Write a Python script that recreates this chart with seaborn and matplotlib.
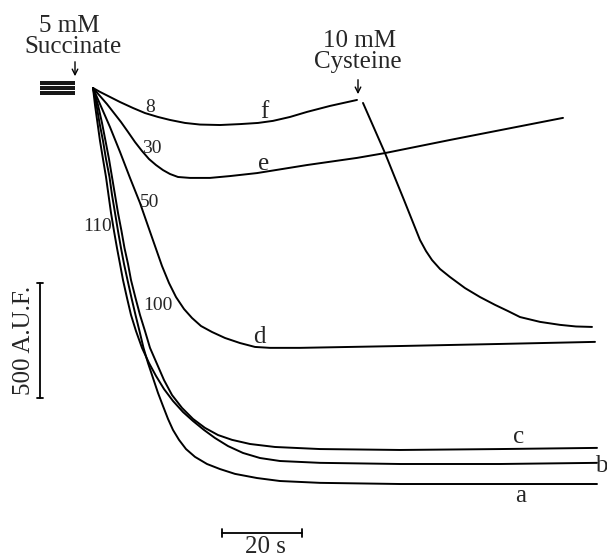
import matplotlib
matplotlib.use("Agg")
import matplotlib.pyplot as plt
import seaborn as sns
import pandas as pd

# time after succinate addition (s) and fluorescence (A.U.F.)
# trace f (8) before cysteine addition
t_f = [0, 1.75, 4.25, 6.75, 10, 13, 16.25, 19.25, 23, 26.75, 31.75, 36.75, 41.25, 45,
       49.25, 53.5, 59.25, 66]
F_f = [1800, 1783, 1761, 1739, 1713, 1691, 1674, 1661, 1648, 1641, 1639, 1643, 1648, 1657,
       1674, 1696, 1722, 1748]
# trace f after 10 mM cysteine
t_cys = [67.5, 70.25, 73, 75.5, 77.75, 79.75, 81.75, 83.25, 84.75, 86.75, 89.25, 93,
         96.75, 100.5, 103.75, 106.75, 111.75, 116.75, 120.75, 124.75]
F_cys = [1735, 1626, 1517, 1409, 1313, 1226, 1139, 1091, 1052, 1013, 978, 930,
         891, 857, 830, 804, 783, 770, 763, 761]
# trace e (30)
t_e = [0, 1.75, 3.5, 5.25, 7, 8.75, 10.5, 12.25, 14, 15.75, 17.5, 19.25, 21.25, 24.25,
       29.25, 34.25, 41, 53.5, 66, 73, 89.25, 117.5]
F_e = [1800, 1765, 1730, 1691, 1652, 1609, 1565, 1526, 1491, 1465, 1443, 1426, 1413, 1409,
       1409, 1417, 1430, 1465, 1496, 1517, 1574, 1670]
# trace d (50)
t_d = [0, 1.75, 4.25, 6.75, 9.25, 11.75, 13.75, 15.5, 17.25, 19, 20.75, 22.75, 24.75, 27,
       29.75, 33, 36.75, 40.5, 44.25, 51.75, 76.75, 101.75, 125.5]
F_d = [1800, 1730, 1630, 1522, 1409, 1300, 1200, 1113, 1026, 952, 891, 839, 800, 765,
       739, 713, 691, 674, 670, 670, 678, 687, 696]
# trace a
t_a = [0, 0.875, 1.625, 2.5, 3.25, 4.125, 4.75, 5.5, 6.25, 7, 7.75, 8.625, 9.625, 10.625,
       11.625, 12.625, 13.75, 15, 16.25, 17.5, 18.75, 20, 21.5, 23.25, 25.5, 28.5, 31.75,
       35.5, 41, 46.75, 56.75, 76.75, 101.75, 126]
F_a = [1800, 1726, 1648, 1570, 1491, 1413, 1335, 1257, 1178, 1104, 1035, 965, 887, 813,
       743, 670, 604, 539, 474, 417, 361, 313, 270, 230, 196, 165, 143,
       122, 104, 91, 83, 78, 78, 78]
# trace b
t_b = [0, 0.5, 1.125, 1.75, 2.5, 3.25, 3.875, 4.5, 5.25, 6, 6.75, 7.5, 8.5, 9.5, 10.75,
       12.25, 14, 15.75, 17.75, 20, 22.5, 25, 27.75, 30.5, 33.75, 37.5, 41.75, 46.75,
       56.75, 76.75, 101.75, 126]
F_b = [1800, 1726, 1648, 1570, 1491, 1413, 1335, 1257, 1178, 1104, 1035, 965, 887, 813, 743,
       670, 604, 548, 491, 439, 391, 352, 313, 278, 243, 213, 191, 178,
       170, 165, 165, 170]
# trace c
t_c = [0, 1.25, 2.25, 3.125, 4, 4.75, 5.5, 6.25, 7.125, 7.875, 8.75, 9.5, 10.625, 11.75,
       13, 14.25, 16, 17.75, 19.75, 22.25, 25, 28, 31.25, 34.75, 39.25, 45.5, 56.75,
       76.75, 101.75, 126]
F_c = [1800, 1726, 1648, 1570, 1491, 1413, 1335, 1257, 1178, 1104, 1035, 965, 887, 813,
       743, 670, 600, 530, 465, 409, 361, 322, 291, 270, 252, 239, 230,
       226, 230, 235]

# baselines recorded before the addition (one per trace)
base_F = [1826, 1816, 1805, 1795, 1784, 1774]
base_t = [-13.25, -4.5]

# trace labels: text, time, fluorescence (baseline of text)
conc_labels = ["8", "30", "50", "110", "100"]
conc_t = [14.25, 14.75, 14.25, 1.25, 16.25]
conc_F = [1696, 1517, 1283, 1178, 835]
trace_labels = ["f", "e", "d", "c", "b", "a"]
trace_t = [42.75, 42.75, 41.5, 106.5, 127, 107]
trace_F = [1670, 1443, 691, 257, 130, 0]

# scale bars
bar_time = 20      # s
bar_fluo = 500     # A.U.F.


def draw_chart():
    sns.set_style("white")
    plt.rcParams["font.family"] = ["Liberation Serif", "DejaVu Serif"]

    fig = plt.figure(figsize=(6.07, 5.57), dpi=100)
    ax = fig.add_axes([0, 0, 1, 1])

    traces = [(t_f, F_f), (t_cys, F_cys), (t_e, F_e), (t_d, F_d),
              (t_a, F_a), (t_b, F_b), (t_c, F_c)]
    for t, F in traces:
        df = pd.DataFrame({"t": t, "F": F})
        sns.lineplot(data=df, x="t", y="F", ax=ax, color="black",
                     linewidth=1.4, sort=False, estimator=None)

    for fb in base_F:
        ax.plot(base_t, [fb, fb], color="black", lw=1.3, solid_capstyle="butt")

    for s, t, F in zip(conc_labels, conc_t, conc_F):
        ax.text(t, F, s, fontsize=14, ha="center", va="baseline")
    for s, t, F in zip(trace_labels, trace_t, trace_F):
        ax.text(t, F, s, fontsize=18, ha="center", va="baseline")

    # additions
    ax.text(-6, 2043, "5 mM", fontsize=18, ha="center", va="baseline")
    ax.text(-5, 1952, "Succinate", fontsize=18, ha="center", va="baseline")
    ax.annotate("", xy=(-4.5, 1839), xytext=(-4.5, 1926),
                arrowprops=dict(arrowstyle="->", color="black", lw=1.0))
    ax.text(66.75, 1978, "10 mM", fontsize=18, ha="center", va="baseline")
    ax.text(66.25, 1887, "Cysteine", fontsize=18, ha="center", va="baseline")
    ax.annotate("", xy=(66.25, 1761), xytext=(66.25, 1848),
                arrowprops=dict(arrowstyle="->", color="black", lw=1.0))

    # 500 A.U.F. scale bar
    x0, y0 = -13.25, 452
    ax.plot([x0, x0], [y0, y0 + bar_fluo], color="black", lw=1.3)
    for yy in (y0, y0 + bar_fluo):
        ax.plot([x0 - 0.75, x0 + 0.75], [yy, yy], color="black", lw=1.3)
    ax.text(-17.25, y0 + bar_fluo / 2, f"{bar_fluo} A.U.F.", fontsize=18,
            rotation=90, ha="center", va="center")

    # 20 s scale bar
    tx, ty = 32.25, -135
    ax.plot([tx, tx + bar_time], [ty, ty], color="black", lw=1.3)
    for xx in (tx, tx + bar_time):
        ax.plot([xx, xx], [ty - 17, ty + 17], color="black", lw=1.3)
    ax.text(tx + bar_time / 2 + 0.75, -220, f"{bar_time} s", fontsize=18,
            ha="center", va="baseline")

    ax.set_xlim(-23.25, 128.5)
    ax.set_ylim(-239.4, 2182.6)
    ax.axis("off")

    fig.savefig("out.png", dpi=100)


if __name__ == "__main__":
    draw_chart()
